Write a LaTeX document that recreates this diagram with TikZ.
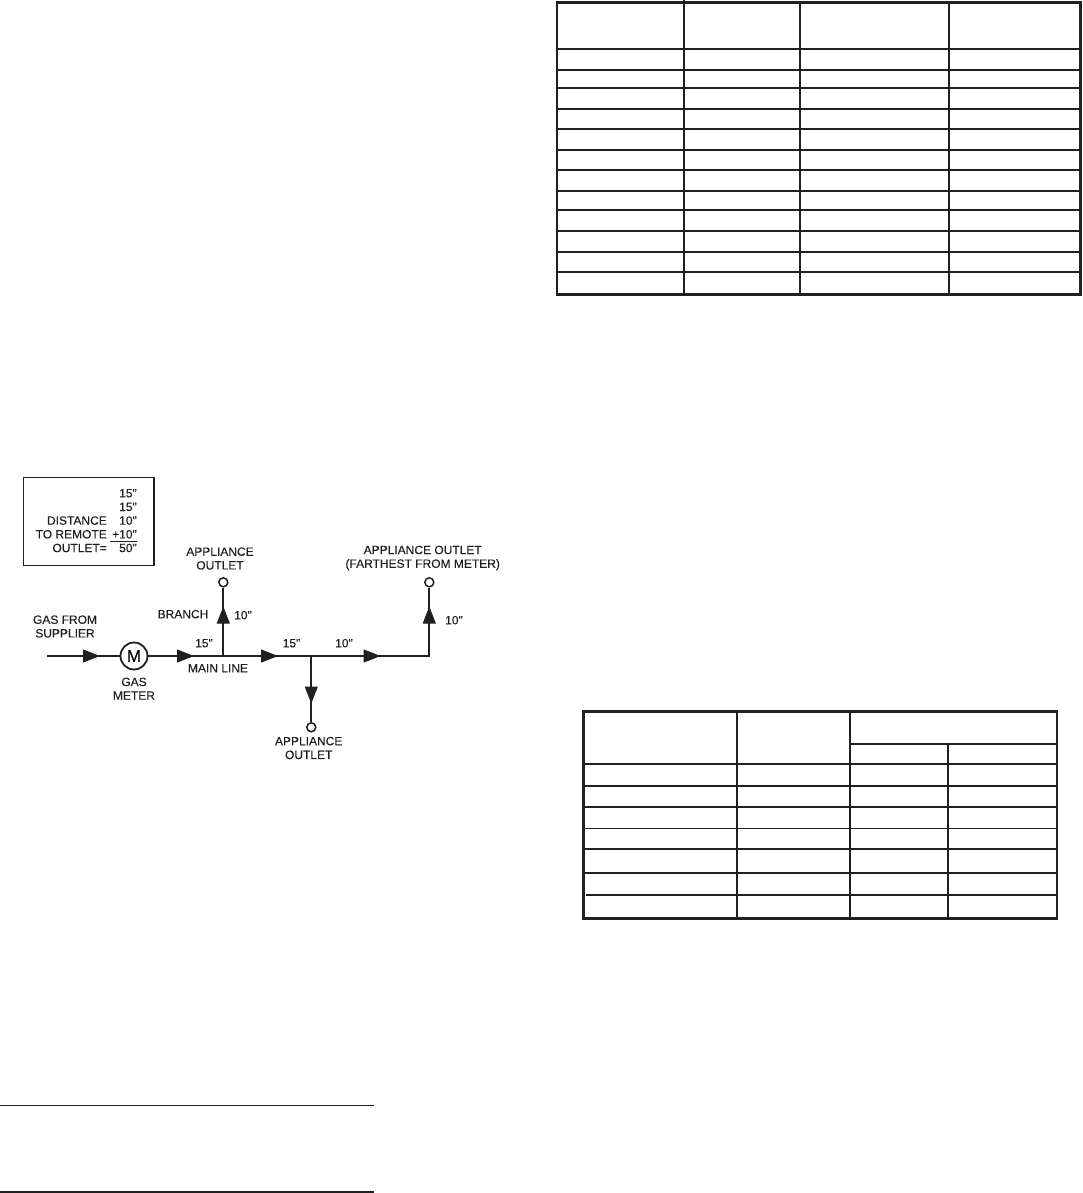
\documentclass[tikz,border=0pt]{standalone}
\usepackage{fontspec}
\setmainfont[Ligatures=TeXOff,FakeBold=0.2]{Liberation Sans}
\usetikzlibrary{arrows.meta}
\definecolor{ink}{HTML}{231F20}
\tikzset{
  outerrule/.style={draw=ink,line width=2.7pt},
  innerrule/.style={draw=ink,line width=1.7pt},
  thinrule/.style={draw=ink,line width=1pt},
  pipe/.style={draw=ink,line width=2pt},
  pipehead/.style={draw=ink,line width=1pt,-{Triangle[length=17pt,width=13pt]}},
  outletcircle/.style={circle,draw=ink,line width=1.5pt,fill=white,minimum size=9pt,inner sep=0pt},
  metercircle/.style={circle,draw=ink,line width=1.8pt,fill=white,minimum size=27pt,inner sep=0pt,font=\fontsize{17}{18}\selectfont},
  lbl/.style={inner sep=0pt,text=ink,align=center,font=\fontsize{12}{13.7}\selectfont},
  lblr/.style={lbl,anchor=base east},
  lblc/.style={lbl,anchor=base}
}
\begin{document}
\begin{tikzpicture}[x=1pt,y=-1pt]
\useasboundingbox (0,0) rectangle (1082,1193);
% ---- top table
\foreach \y in {48.7,70,88,108.7,128.7,149.7,170,191,210,230.7,251.7,272}
  \draw[innerrule] (557,\y) -- (1080.5,\y);
\foreach \x in {800,949}
  \draw[innerrule] (\x,2.5) -- (\x,294.5);
\draw[innerrule] (684,0) -- (684,294.5);
\draw[outerrule] (557,2.5) rectangle (1080.5,294.5);
% ---- lower table
\foreach \y in {763.7,785.7,806.7,848.7,872.7}
  \draw[innerrule] (583.3,\y) -- (1057,\y);
\draw[thinrule] (583.3,828.3) -- (1057,828.3);
\draw[innerrule] (586,894.7) -- (1057,894.7);
\draw[innerrule] (850,743.7) -- (1057,743.7);
\draw[innerrule] (736.7,711.3) -- (736.7,918.3);
\draw[innerrule] (850,711.3) -- (850,918.3);
\draw[innerrule] (948,743.7) -- (948,918.3);
\draw[outerrule] (583.3,711.3) rectangle (1057,918.3);
% ---- footnote rules
\draw[draw=ink,line width=1.2pt] (0,1105.3) -- (374,1105.3);
\draw[draw=ink,line width=2pt] (0,1191.7) -- (374,1191.7);
% ---- distance box
\draw[draw=ink,line width=1.3pt] (23.3,477.3) rectangle (154,565.3);
\node[lblr] (d1) at (137,497.3) {15"};
\node[lblr] (d2) at (137,511) {15"};
\node[lblr] (d3) at (137,524.7) {10"};
\node[lblr] (d4) at (137,538.4) {+10"};
\node[lblr] (d5) at (137,552.1) {50"};
\node[lblr] (t1) at (107,524.7) {DISTANCE};
\node[lblr] (t2) at (107,538.4) {TO REMOTE};
\node[lblr] (t3) at (107,552.1) {OUTLET=};
\coordinate (sumL) at (110,541);
\coordinate (sumR) at (136.5,541);
\draw[draw=ink,line width=0.9pt] (sumL) -- (sumR);
% ---- diagram points
\coordinate (start) at (46.7,656);
\coordinate (a1) at (100,656);
\coordinate (b1) at (83,656);
\node[metercircle] (meter) at (134,656) {M};
\coordinate (a2) at (194,656);
\coordinate (b2) at (177,656);
\coordinate (j1) at (223.3,656);
\coordinate (a3) at (278,656);
\coordinate (b3) at (261,656);
\coordinate (j2) at (311.3,656);
\coordinate (a4) at (380.7,656);
\coordinate (b4) at (363.7,656);
\coordinate (corner) at (429.3,656);
\node[outletcircle] (o1) at (223.3,582.3) {};
\node[outletcircle] (o2) at (311.3,727.3) {};
\node[outletcircle] (o3) at (429.3,582.3) {};
\coordinate (a5) at (223.3,606.5);
\coordinate (b5) at (223.3,623.5);
\coordinate (a6) at (311.3,703.5);
\coordinate (b6) at (311.3,686.5);
\coordinate (a7) at (429.3,606.5);
\coordinate (b7) at (429.3,623.5);
% ---- connectors
\draw[pipe] (start) -- (meter);
\draw[pipe,line join=miter] (meter) -- (corner) -- (o3);
\draw[pipe] (j1) -- (o1);
\draw[pipe] (j2) -- (o2);
\foreach \b/\a in {b1/a1,b2/a2,b3/a3,b4/a4,b5/a5,b6/a6,b7/a7}
  \draw[pipehead] (\b) -- (\a);
% ---- labels
\node[lbl] (l1) at (220,558.5) {APPLIANCE\\OUTLET};
\node[lbl] (l2) at (65,626.5) {GAS FROM\\SUPPLIER};
\node[lblc] (l3) at (183,618.3) {BRANCH};
\node[lblc] (l4) at (243,619.3) {10"};
\node[lblc] (l5) at (204,647.3) {15"};
\node[lblc] (l6) at (218,672.3) {MAIN LINE};
\node[lbl] (l7) at (134,688.7) {GAS\\METER};
\node[lbl] (l8) at (422.7,558) {APPLIANCE OUTLET\\(FARTHEST FROM METER)};
\node[lblc] (l9) at (454,624.3) {10"};
\node[lblc] (l10) at (291.5,647.3) {15"};
\node[lblc] (l11) at (344,647.3) {10"};
\node[lbl] (l12) at (308.7,748) {APPLIANCE\\OUTLET};
\end{tikzpicture}
\end{document}
